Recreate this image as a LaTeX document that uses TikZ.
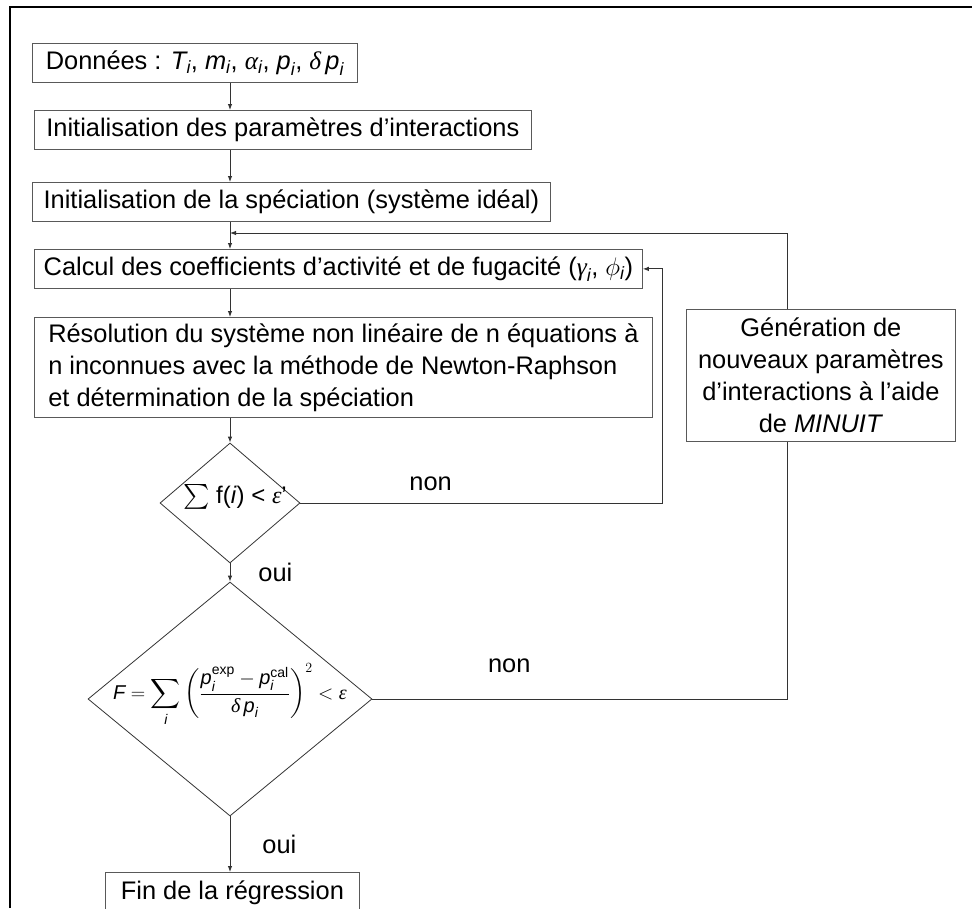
\RequirePackage{fix-cm}
\documentclass[tikz,border=0pt]{standalone}
\usepackage{fontspec}
\usepackage{amsmath}
\setmainfont{Liberation Sans}
\newfontfamily\grk{Liberation Serif}
\usetikzlibrary{shapes.geometric,arrows.meta}

\newcommand{\vi}[1]{$\textit{#1}_{\textit{i}}$}
\newcommand{\gi}[1]{$\textit{\grk #1}_{\textit{i}}$}

\begin{document}
\begin{tikzpicture}[x=1pt, y=-1pt,
        box/.style={rectangle, draw=black!65, line width=0.8pt, anchor=north west, inner sep=0pt, minimum height=39pt, font=\fontsize{25.4}{32}\selectfont},
        cond/.style={diamond, draw=black!80, line width=0.8pt, inner sep=0pt, font=\fontsize{24}{28}\selectfont},
        arr/.style={draw=black!80, line width=0.9pt, -{Latex[length=6pt,width=4.5pt]}},
        link/.style={draw=black!80, line width=0.9pt},
        lbl/.style={font=\fontsize{25.4}{30}\selectfont, inner sep=0pt}
    ]
    \useasboundingbox (0,0) rectangle (972,908);
    \draw[line width=2pt] (10,908) -- (10,7) -- (972,7);

    % fixed columns of the connectors
    \coordinate (axis) at (230,0);
    \coordinate (smallx) at (662,0);
    \coordinate (loopx) at (787,0);
    \coordinate (fb) at (230,233);

    \node[box, minimum width=325pt] (don) at (32,43) {Données : \vi{T}, \vi{m}, \gi{α}, \vi{p}, {\grk\itshape δ}\,\vi{p}};
    \node[box, minimum width=497pt] (initp) at (34,110) {Initialisation des paramètres d’interactions};
    \node[box, minimum width=518pt] (inits) at (32,182) {Initialisation de la spéciation (système idéal)};
    \node[box, minimum width=608pt] (calc) at (34,249) {Calcul des coefficients d’activité et de fugacité (\gi{γ}, $\phi_{\textit{i}}$)};
    \node[box, minimum width=618pt, minimum height=100pt, align=left] (res) at (34,317) {Résolution du système non linéaire de n équations à\\n inconnues avec la méthode de Newton-Raphson\\et détermination de la spéciation};
    \node[box, minimum width=269pt, minimum height=132pt, align=center] (gen) at (686,309) {Génération de\\nouveaux paramètres\\d’interactions à l’aide\\de \textit{MINUIT}};

    \node[cond, minimum width=140pt, minimum height=120pt] (d1) at (230,503) {\smash{\makebox[0pt]{\hspace{10pt}$\sum$ f(\textit{i}) < {\grk\itshape ε}’}}};
    \node[cond, minimum width=284pt, minimum height=234pt] (d2) at (230,699) {\smash{\makebox[0pt]{\fontsize{20}{24}\selectfont
        $\textit{F} = \displaystyle\sum_{\textit{i}} \left(\frac{\textit{p}_{\textit{i}}^{\text{exp}} - \textit{p}_{\textit{i}}^{\text{cal}}}{\textit{\grk δ}\,\textit{p}_{\textit{i}}}\right)^{2} < \textit{\grk ε}$}}};

    \node[box, minimum width=254pt, minimum height=40pt] (fin) at (105,872) {Fin de la régression};

    % main flow
    \draw[arr] (don.south -| axis) -- (initp.north -| axis);
    \draw[arr] (initp.south -| axis) -- (inits.north -| axis);
    \draw[arr] (inits.south -| axis) -- (calc.north -| axis);
    \draw[arr] (calc.south -| axis) -- (res.north -| axis);
    \draw[arr] (res.south -| axis) -- (d1.north);
    \draw[arr] (d1.south) -- node[lbl, anchor=west, xshift=28pt] {oui} (d2.north);
    \draw[arr] (d2.south) -- node[lbl, anchor=west, xshift=32pt] {oui} (fin.north -| axis);

    % loops
    \draw[arr] (d1.east) -- node[lbl, pos=0.36, anchor=south, yshift=12pt] {non} (d1.east -| smallx) |- (calc.east);
    \draw[link] (d2.east) -- node[lbl, pos=0.33, anchor=south, yshift=26pt] {non} (d2.east -| loopx) -- (gen.south -| loopx);
    \draw[arr] (gen.north -| loopx) |- (fb);
\end{tikzpicture}
\end{document}
